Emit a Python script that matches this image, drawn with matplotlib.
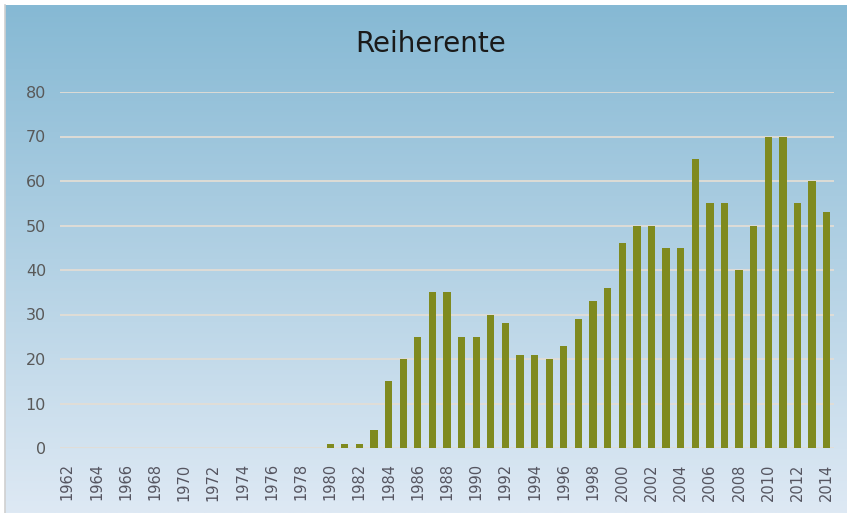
import numpy as np
import matplotlib
matplotlib.use("Agg")
import matplotlib.pyplot as plt

# data
years = list(range(1962, 2015))
count_years = list(range(1980, 2015))
counts = [1, 1, 1, 4, 15, 20, 25, 35, 35, 25, 25, 30, 28, 21, 21, 20, 23, 29,
          33, 36, 46, 50, 50, 45, 45, 65, 55, 55, 40, 50, 70, 70, 55, 60, 53]
title = "Reiherente"

values = dict(zip(years, [0] * len(years)))
values.update(dict(zip(count_years, counts)))
heights = [values[y] for y in years]

W, H = 847, 513
fig = plt.figure(figsize=(W / 100, H / 100), dpi=100, facecolor="white")

# gradient background
bg = fig.add_axes([5 / W, 0, (W - 5) / W, (H - 5) / H])
top = np.array([134, 185, 212]) / 255
bot = np.array([222, 233, 244]) / 255
t = np.linspace(0, 1, 256)[:, None]
grad = top[None, None, :] * (1 - t[:, :, None]) + bot[None, None, :] * t[:, :, None]
bg.imshow(np.repeat(grad, 2, axis=1), aspect="auto", extent=[0, 1, 0, 1])
bg.axis("off")
fig.add_artist(plt.Line2D([4.5 / W, 4.5 / W], [0, (H - 5) / H], color="#d0d0d0", lw=1.2,
                          transform=fig.transFigure))

ax = fig.add_axes([60 / W, (H - 448) / H, (834 - 60) / W, (448 - 92) / H])
ax.patch.set_alpha(0)
ax.bar(years, heights, width=0.5, color="#7f8a1f", zorder=3)
ax.set_xlim(1961.5, 2014.5)
ax.set_ylim(0, 80)
ax.set_yticks(range(0, 81, 10))
ax.set_xticks(years[::2])
ax.set_xticklabels([str(y) for y in years[::2]], rotation=90, fontsize=10.5, color="#555560")
ax.tick_params(axis="y", labelsize=11.5, labelcolor="#595959", length=0, pad=10)
ax.tick_params(axis="x", length=0, pad=11)
ax.grid(axis="y", color="#e2ddd5", lw=1.3, zorder=0)
for s in ax.spines.values():
    s.set_visible(False)

fig.text(431 / W, 1 - 44 / H, title, ha="center", va="center", fontsize=20, color="#1a1a1a")

fig.savefig("out.png", dpi=100)
